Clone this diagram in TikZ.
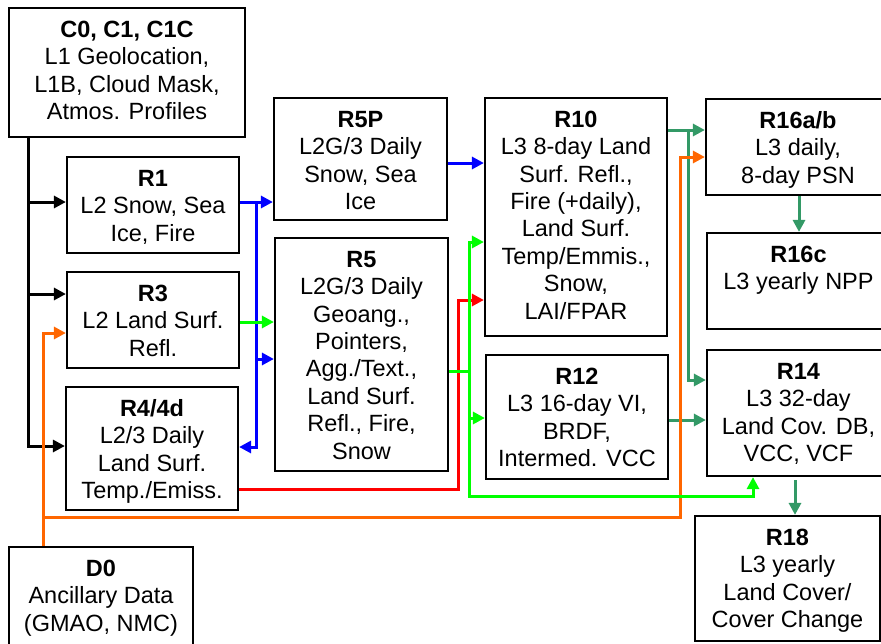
\documentclass[tikz,border=0pt]{standalone}
\usepackage{fontspec}
\setmainfont{Liberation Sans}
\usetikzlibrary{arrows.meta}
\definecolor{cblue}{HTML}{0000FF}
\definecolor{cgreen}{HTML}{00FF00}
\definecolor{cred}{HTML}{FF0000}
\definecolor{corange}{HTML}{FF6600}
\definecolor{cdgreen}{HTML}{339966}
\tikzset{
  box/.style={draw=black, line width=2.2pt, rectangle, inner sep=0pt},
  txt/.style={inner sep=0pt, align=center, font=\fontsize{23.5}{27.4}\selectfont},
  tip/.tip={Triangle[length=12pt,width=12pt]},
  conn/.style={line width=3pt, -tip},
  both/.style={line width=3pt, tip-tip},
  plain/.style={line width=3pt},
  blk/.style={line width=3.5pt, draw=black},
}
\newcommand\mkbox[6]{%
  \node[box, minimum width={(#4-#2)*1pt}, minimum height={(#5-#3)*1pt}] (#1) at ({(#2+#4)/2},{(#3+#5)/2}) {};
  \node[txt, anchor=north] (#1t) at ({(#2+#4)/2},{#3+10}) {\strut #6};
}
\begin{document}
\begin{tikzpicture}[x=1pt,y=-1pt]
\useasboundingbox (0,0) rectangle (881,643);
\clip (0,0) rectangle (881,643);
\mkbox{c0}{9}{8}{245}{137}{\textbf{C0, C1, C1C}\\L1 Geolocation,\\L1B, Cloud Mask,\\Atmos. Profiles}
\mkbox{r1}{67}{157}{239}{253}{\textbf{R1}\\L2 Snow, Sea\\Ice, Fire}
\mkbox{r3}{67}{272}{239}{368}{\textbf{R3}\\L2 Land Surf.\\Refl.}
\mkbox{r44}{66}{387}{238}{510}{\textbf{R4/4d}\\L2/3 Daily\\Land Surf.\\Temp./Emiss.}
\mkbox{d0}{9}{547}{193}{652}{\textbf{D0}\\Ancillary Data\\(GMAO, NMC)}
\mkbox{r5p}{274}{98}{447}{220}{\textbf{R5P}\\L2G/3 Daily\\Snow, Sea\\Ice}
\mkbox{r5}{275}{238}{448}{471}{\textbf{R5}\\L2G/3 Daily\\Geoang.,\\Pointers,\\Agg./Text.,\\Land Surf.\\Refl., Fire,\\Snow}
\mkbox{r10}{485}{98}{667}{336}{\textbf{R10}\\L3 8-day Land\\Surf. Refl.,\\Fire (+daily),\\Land Surf.\\Temp/Emmis.,\\Snow,\\LAI/FPAR}
\mkbox{r12}{486}{355}{668}{479}{\textbf{R12}\\L3 16-day VI,\\BRDF,\\Intermed. VCC}
\mkbox{r16ab}{706}{99}{890}{195}{\textbf{R16a/b}\\L3 daily,\\8-day PSN}
\mkbox{r16c}{707}{233}{890}{329}{\textbf{R16c}\\L3 yearly NPP}
\mkbox{r14}{707}{350}{890}{476}{\textbf{R14}\\L3 32-day\\Land Cov. DB,\\VCC, VCF}
\mkbox{r18}{695}{516}{880}{641}{\textbf{R18}\\L3 yearly\\Land Cover/\\Cover Change}
% x positions
\coordinate (kx) at (28,0);
\coordinate (bx) at (256,0);
\coordinate (rx) at (458,0);
\coordinate (gx) at (469,0);
\coordinate (gx2) at (753,0);
\coordinate (ox) at (43,0);
\coordinate (ox2) at (680,0);
\coordinate (dx) at (688,0);
\coordinate (dx2) at (799,0);
\coordinate (dx3) at (795,0);
% y positions
\foreach \yy in {130,157,163,202,242,294,300,322,333,359,371,380,418,420,446,447,489,496,517}
  \coordinate (y\yy) at (0,\yy);
% black
\draw[blk, conn] (c0.south -| kx) |- (r44.west |- y446);
\draw[blk, conn] (kx |- y202) -- (r1.west |- y202);
\draw[blk, conn] (kx |- y294) -- (r3.west |- y294);
% dark green
\draw[cdgreen, conn] (r10.east |- y130) -- (r16ab.west |- y130);
\draw[cdgreen, conn] (dx |- y130) |- (r14.west |- y380);
\draw[cdgreen, conn] (r12.east |- y420) -- (r14.west |- y420);
\draw[cdgreen, conn] (r16ab.south -| dx2) -- (r16c.north -| dx2);
\draw[cdgreen, conn, shorten <=3pt] (r14.south -| dx3) -- (r18.north -| dx3);
% blue
\draw[cblue, plain] (r1.east |- y202) -- (bx |- y202);
\draw[cblue, both] (r5p.west |- y202) -| (bx |- y447) -- (r44.east |- y447);
\draw[cblue, conn] (bx |- y359) -- (r5.west |- y359);
\draw[cblue, conn] (r5p.east |- y163) -- (r10.west |- y163);
% red
\draw[cred, conn] (r44.east |- y489) -| (rx |- y300) -- (r10.west |- y300);
% orange
\draw[corange, conn] (d0.north -| ox) |- (r3.west |- y333);
\draw[corange, conn] (ox |- y517) -| (ox2 |- y157) -- (r16ab.west |- y157);
% green
\draw[cgreen, conn] (r3.east |- y322) -- (r5.west |- y322);
\draw[cgreen, plain] (r5.east |- y371) -- (gx |- y371);
\draw[cgreen, both] (r10.west |- y242) -| (gx |- y496) -| (r14.south -| gx2);
\draw[cgreen, conn] (gx |- y418) -- (r12.west |- y418);
\end{tikzpicture}
\end{document}
